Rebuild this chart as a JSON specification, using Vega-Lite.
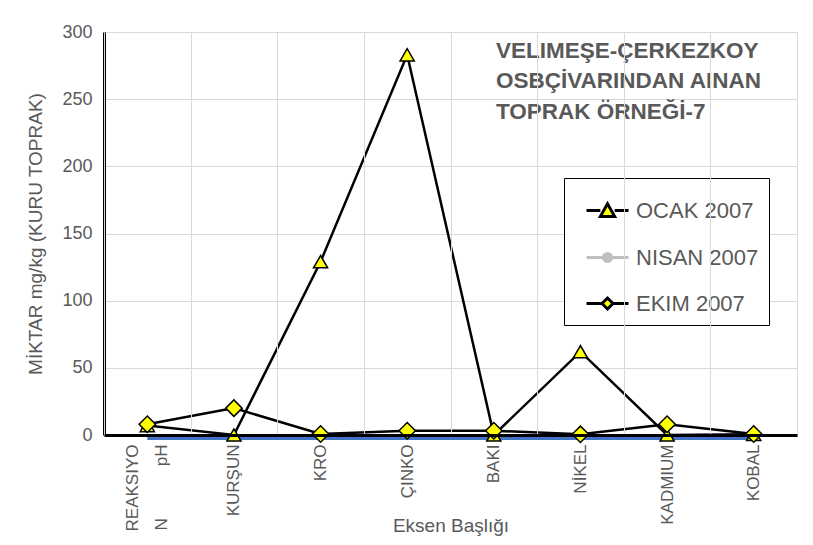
{
  "$schema": "https://vega.github.io/schema/vega-lite/v6.json",
  "width": 693,
  "height": 403,
  "autosize": "none",
  "padding": {"left": 104, "top": 32, "right": 16, "bottom": 110},
  "background": "white",
  "config": {"view": {"stroke": null}, "font": "Liberation Sans"},
  "title": {
    "text": ["VELIMEŞE-ÇERKEZKOY", "OSBÇİVARINDAN AINAN", "TOPRAK ÖRNEĞİ-7"],
    "orient": "top",
    "anchor": "start",
    "frame": "group",
    "align": "left",
    "dx": 392,
    "dy": 100,
    "offset": 0,
    "font": "Liberation Sans",
    "fontSize": 22.5,
    "fontWeight": "bold",
    "color": "#595959",
    "lineHeight": 30.5
  },
  "data": {
    "values": [
      {"cat": "REAKSIYON pH", "series": "OCAK 2007", "value": 7},
      {"cat": "KURŞUN", "series": "OCAK 2007", "value": 0},
      {"cat": "KRO", "series": "OCAK 2007", "value": 129},
      {"cat": "ÇINKO", "series": "OCAK 2007", "value": 283},
      {"cat": "BAKI", "series": "OCAK 2007", "value": 0},
      {"cat": "NİKEL", "series": "OCAK 2007", "value": 62},
      {"cat": "KADMIUM", "series": "OCAK 2007", "value": 0},
      {"cat": "KOBAL", "series": "OCAK 2007", "value": 0.5},
      {"cat": "REAKSIYON pH", "series": "NISAN 2007", "value": 0},
      {"cat": "KURŞUN", "series": "NISAN 2007", "value": 0},
      {"cat": "KRO", "series": "NISAN 2007", "value": 0},
      {"cat": "ÇINKO", "series": "NISAN 2007", "value": 0},
      {"cat": "BAKI", "series": "NISAN 2007", "value": 0},
      {"cat": "NİKEL", "series": "NISAN 2007", "value": 0},
      {"cat": "KADMIUM", "series": "NISAN 2007", "value": 0},
      {"cat": "KOBAL", "series": "NISAN 2007", "value": 0},
      {"cat": "REAKSIYON pH", "series": "EKIM 2007", "value": 8},
      {"cat": "KURŞUN", "series": "EKIM 2007", "value": 20},
      {"cat": "KRO", "series": "EKIM 2007", "value": 0.7},
      {"cat": "ÇINKO", "series": "EKIM 2007", "value": 3.2},
      {"cat": "BAKI", "series": "EKIM 2007", "value": 3.2},
      {"cat": "NİKEL", "series": "EKIM 2007", "value": 0.5},
      {"cat": "KADMIUM", "series": "EKIM 2007", "value": 8},
      {"cat": "KOBAL", "series": "EKIM 2007", "value": 0.7}
    ]
  },
  "encoding": {
    "x": {
      "field": "cat",
      "type": "nominal",
      "bandPosition": 0.5,
      "sort": ["REAKSIYON pH", "KURŞUN", "KRO", "ÇINKO", "BAKI", "NİKEL", "KADMIUM", "KOBAL"],
      "scale": {"type": "band", "paddingInner": 0, "paddingOuter": 0},
      "axis": {
        "title": "Eksen Başlığı",
        "titleFontSize": 19,
        "titleColor": "#595959",
        "titleFontWeight": "normal",
        "titleY": 90,
        "titleBaseline": "middle",
        "labelAngle": 270,
        "labelAlign": "right",
        "labelBaseline": "middle",
        "labelPadding": 9,
        "labelFontSize": 17,
        "labelColor": "#595959",
        "labelLineHeight": 29,
        "labelOffset": {"condition": {"test": "datum.value === 'REAKSIYON pH'", "value": -15}, "value": 0},
        "labelExpr": "datum.value === 'REAKSIYON pH' ? ['REAKSIYO', 'N\u00a0\u00a0\u00a0\u00a0\u00a0\u00a0\u00a0\u00a0\u00a0\u00a0\u00a0pH'] : datum.value",
        "ticks": false,
        "tickBand": "extent",
        "grid": true,
        "gridColor": "#d9d9d9",
        "domainColor": "black",
        "domainWidth": 3,
        "zindex": 1
      }
    },
    "y": {
      "field": "value",
      "type": "quantitative",
      "scale": {"domain": [0, 300], "nice": false},
      "axis": {
        "title": "MİKTAR mg/kg (KURU TOPRAK)",
        "titleFontSize": 19,
        "titleColor": "#595959",
        "titleFontWeight": "normal",
        "titlePadding": 16,
        "values": [0, 50, 100, 150, 200, 250, 300],
        "labelFontSize": 18,
        "labelColor": "#595959",
        "labelPadding": 12,
        "ticks": false,
        "grid": true,
        "gridColor": "#d9d9d9",
        "domainColor": "black",
        "domainWidth": 3
      }
    }
  },
  "layer": [
    {
      "transform": [{"filter": "datum.series === 'NISAN 2007'"}],
      "mark": {"type": "line", "color": "#4472C4", "strokeWidth": 5, "yOffset": 2.5}
    },
    {
      "transform": [{"filter": "datum.series !== 'NISAN 2007'"}],
      "mark": {"type": "line", "color": "black", "strokeWidth": 2.5},
      "encoding": {"detail": {"field": "series"}}
    },
    {
      "transform": [{"filter": "datum.series === 'OCAK 2007'"}],
      "mark": {"type": "point", "shape": "triangle-up", "filled": true, "fill": "#ffff00", "stroke": "black", "strokeWidth": 1.5, "size": 200, "opacity": 1}
    },
    {
      "transform": [{"filter": "datum.series === 'EKIM 2007'"}],
      "mark": {"type": "point", "shape": "diamond", "filled": true, "fill": "#ffff00", "stroke": "black", "strokeWidth": 1.5, "size": 270, "opacity": 1}
    },
    {
      "transform": [{"filter": "datum.series === 'NISAN 2007'"}],
      "mark": {"type": "point", "filled": true, "opacity": 0, "size": 10},
      "encoding": {
        "fill": {
          "field": "series",
          "type": "nominal",
          "scale": {"domain": ["OCAK 2007", "NISAN 2007", "EKIM 2007"], "range": ["#ffff00", "#bfbfbf", "#ffff00"]}
        },
        "stroke": {
          "field": "series",
          "type": "nominal",
          "scale": {"domain": ["OCAK 2007", "NISAN 2007", "EKIM 2007"], "range": ["black", "#bfbfbf", "black"]}
        },
        "shape": {
          "field": "series",
          "type": "nominal",
          "scale": {
            "domain": ["OCAK 2007", "NISAN 2007", "EKIM 2007"],
            "range": [
              "M-1,0H-0.34M0.34,0H1M-0.34,0.28L0,-0.32L0.34,0.28Z",
              "M-1,0H1M-0.19,0A0.19,0.19,0,1,0,0.19,0A0.19,0.19,0,1,0,-0.19,0Z",
              "M-1,0H-0.26M0.26,0H1M-0.26,0L0,-0.26L0.26,0L0,0.26Z"
            ]
          },
          "legend": {
            "title": null,
            "orient": "none",
            "legendX": 460,
            "legendY": 146,
            "padding": 10,
            "strokeColor": "black",
            "fillColor": "white",
            "symbolSize": 1764,
            "symbolOffset": 11,
            "symbolStrokeWidth": 3,
            "symbolOpacity": 1,
            "rowPadding": 12,
            "labelOffset": 6,
            "labelFont": "Liberation Sans",
            "labelFontSize": 22,
            "labelColor": "#595959",
            "labelLimit": 300
          }
        }
      }
    }
  ]
}
